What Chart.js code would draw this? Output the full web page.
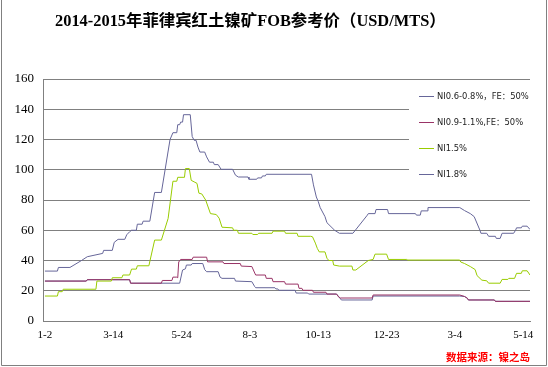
<!DOCTYPE html>
<html>
<head>
<meta charset="utf-8">
<script src="https://cdn.jsdelivr.net/npm/chart.js@4.4.1/dist/chart.umd.min.js"></script>
<style>
  html, body { margin: 0; padding: 0; background: #fff; }
  #wrap { width: 548px; height: 367px; }
</style>
</head>
<body>
<div id="wrap"><canvas id="priceChart" width="548" height="367"></canvas></div>
<script>
// --- DATA ---
// x values are days counted from 2014-1-2
const tickDays = [0, 71, 142, 213, 284, 355, 426, 497];
const tickLabels = ["1-2", "3-14", "5-24", "8-3", "10-13", "12-23", "3-4", "5-14"];

const seriesNames = ["NI0.6-0.8%，FE：50%", "NI0.9-1.1%,FE：50%", "NI1.5%", "NI1.8%"];

const ni06Days = [0,43,44,88,89,140,143,146,147,152,153,164,166,168,180,182,184,197,198,215,218,219,239,240,242,243,260,261,273,274,303,306,308,340,341,431,436,439,440,467,468,504];
const ni06Vals = [26.4,26.4,27.3,27.3,25,25,33.7,34.5,37,37,38,38,34,32.6,32.6,29,28.2,28.2,26.4,26,22.7,22,22,21.2,21.2,20.3,20.3,18.5,18.5,17.8,17.8,15.5,13.9,13.9,16.5,16.5,16.2,15,13.9,13.9,13,13];

const ni09Days = [0,43,44,88,89,121,122,132,133,137,138,139,141,153,154,168,169,185,186,203,204,215,218,219,229,230,236,237,249,250,263,264,267,268,278,279,292,293,303,305,307,340,341,431,436,439,440,467,468,504];
const ni09Vals = [26.4,26.4,27.3,27.3,25,25,26.8,26.8,29,29,28.6,39,40.7,40.7,42.2,42.2,39.1,39.1,38,38,36.3,36,31.7,30.4,30.4,28.2,28.2,26,26,24.4,24.4,21.6,21.6,20.3,20.3,19,19,17.8,17.8,16,15.2,15.2,17.2,17.2,16.2,15,13.9,13.9,13,13];

const ni15Days = [0,13,14,18,19,53,54,69,70,80,81,88,90,95,96,108,114,121,128,133,137,138,145,146,150,152,155,158,160,163,167,172,178,181,184,195,196,200,201,215,216,221,222,236,237,249,250,262,263,276,278,281,283,285,291,293,295,299,300,306,319,320,323,336,341,343,355,357,376,377,431,432,436,442,447,449,454,459,461,473,475,481,482,488,490,495,496,501,504];
const ni15Vals = [16.5,16.5,19.4,19.4,21,21,26.4,26.4,28.6,28.6,30.4,30.4,34.3,34.3,36.5,36.5,53.5,53.5,67.8,92.4,92.4,95,95,100.8,100.8,93,92,91,84.5,84,80,71,70.4,68,62,61.6,60,60,58,58,57.2,57.2,58,58,59.4,59.4,58,58,56,56,55.7,51.5,48,45.7,45.7,41.5,40,40,37,36.3,36.3,33.7,33.7,40,40.7,44.2,44.2,40.7,40.7,40.3,40.3,39,38,36,34,30,27,26.6,25,25,27.5,27.5,28.2,28.2,31.5,31.5,33.2,33.2,30.4];

const ni18Days = [0,13,14,26,38,44,60,61,70,72,76,83,85,88,90,95,96,101,102,109,114,121,130,133,137,138,140,141,143,144,151,153,155,157,159,161,166,168,171,175,176,180,183,195,198,201,211,212,220,221,225,226,229,230,277,279,282,284,286,291,293,301,306,320,335,336,343,344,356,357,385,386,390,391,397,398,431,436,442,446,452,453,459,461,468,469,473,475,487,489,490,495,496,501,504];
const ni18Vals = [33,33,35.4,35.4,40,42.5,44.7,46.7,46.7,52,54,54,57,59,60,60,64,64,66,66,85,85,120,124.5,124.5,129.8,129.8,131.5,131.5,136.4,136.4,122,119.5,119.5,115,111.7,111.7,108.5,105,105,103.4,103.4,100.3,100.3,96.4,95.2,95.2,93.7,93.7,94.6,94.6,95.9,95.9,97,97,90,82,79,75,69,65,60,58,58,70,71,71,73.7,73.7,71,71,70,70,72.8,72.8,75,75,73,71,69,60,58,58,56,56,54.6,54.6,58,58,60,61.6,61.6,62.7,62.7,60.5];

const seriesColors = ["#666699", "#993366", "#99cc00", "#666699"];

function toPoints(days, vals) {
  return days.map((d, i) => ({ x: d, y: vals[i] }));
}

// --- EXTRA DRAWING (title, legend, source, frame) ---
const decorPlugin = {
  id: "decor",
  afterDatasetsDraw(chart) {
    const ctx = chart.ctx;
    ctx.save();

    // legend box covers the grid lines
    ctx.fillStyle = "#fff";
    ctx.fillRect(409, 84, 121, 104);
    const legendY = [96, 122, 148, 174];
    ctx.font = "8.4px 'DejaVu Sans', 'Noto Sans CJK SC'";
    ctx.textBaseline = "middle";
    ctx.textAlign = "left";
    seriesNames.forEach((name, i) => {
      ctx.strokeStyle = seriesColors[i];
      ctx.lineWidth = 1;
      ctx.beginPath();
      ctx.moveTo(419, legendY[i] + 0.5);
      ctx.lineTo(434, legendY[i] + 0.5);
      ctx.stroke();
      ctx.fillStyle = "#222";
      ctx.fillText(name, 437, legendY[i] + 0.5);
    });

    // title
    ctx.fillStyle = "#000";
    ctx.font = "bold 16.4px 'Liberation Serif', 'Noto Sans CJK SC'";
    ctx.textAlign = "left";
    ctx.fillText("2014-2015年菲律宾红土镍矿FOB参考价（USD/MTS）", 55, 22);

    // data source
    ctx.fillStyle = "#ff0000";
    ctx.font = "bold 10.5px 'Noto Sans CJK SC'";
    ctx.textAlign = "right";
    ctx.fillText("数据来源：镍之岛", 530, 357);

    // outer frame
    ctx.strokeStyle = "#808080";
    ctx.lineWidth = 1;
    ctx.beginPath();
    ctx.moveTo(1.5, 0);
    ctx.lineTo(1.5, 365.5);
    ctx.lineTo(546.5, 365.5);
    ctx.lineTo(546.5, 0);
    ctx.stroke();

    ctx.restore();
  },
};

// --- CHART ---
function renderChart() {
  const ctx = document.getElementById("priceChart").getContext("2d");
  const allDays = [ni06Days, ni09Days, ni15Days, ni18Days];
  const allVals = [ni06Vals, ni09Vals, ni15Vals, ni18Vals];

  const datasets = seriesNames.map((name, i) => ({
    label: name,
    data: toPoints(allDays[i], allVals[i]),
    borderColor: seriesColors[i],
    backgroundColor: seriesColors[i],
    borderWidth: 1,
    pointRadius: 0,
    tension: 0,
    fill: false,
    order: 4 - i,
  }));

  new Chart(ctx, {
    type: "line",
    data: { datasets: datasets },
    plugins: [decorPlugin],
    options: {
      responsive: false,
      animation: false,
      devicePixelRatio: 1,
      layout: { padding: { top: 79, right: 18, left: 0, bottom: 0 } },
      scales: {
        x: {
          type: "linear",
          min: -2,
          max: 504,
          afterBuildTicks: (scale) => {
            scale.ticks = tickDays.map((d) => ({ value: d }));
          },
          afterFit: (scale) => {
            scale.height = 46;
          },
          ticks: {
            autoSkip: false,
            maxRotation: 0,
            padding: 8,
            color: "#000",
            font: { family: "'Liberation Serif'", size: 11 },
            callback: (value) => tickLabels[tickDays.indexOf(value)],
          },
          grid: { display: false, drawTicks: false },
          border: { display: true, color: "#808080", width: 1 },
        },
        y: {
          min: 0,
          max: 160,
          afterFit: (scale) => {
            scale.width = 43;
          },
          ticks: {
            stepSize: 20,
            padding: 9,
            color: "#000",
            font: { family: "'Liberation Serif'", size: 13 },
          },
          grid: { color: "#808080", lineWidth: 1, drawTicks: false },
          border: { display: true, color: "#808080", width: 1 },
        },
      },
      plugins: {
        legend: { display: false },
        title: { display: false },
        tooltip: { enabled: false },
      },
    },
  });
}

document.addEventListener("DOMContentLoaded", renderChart);
</script>
</body>
</html>
